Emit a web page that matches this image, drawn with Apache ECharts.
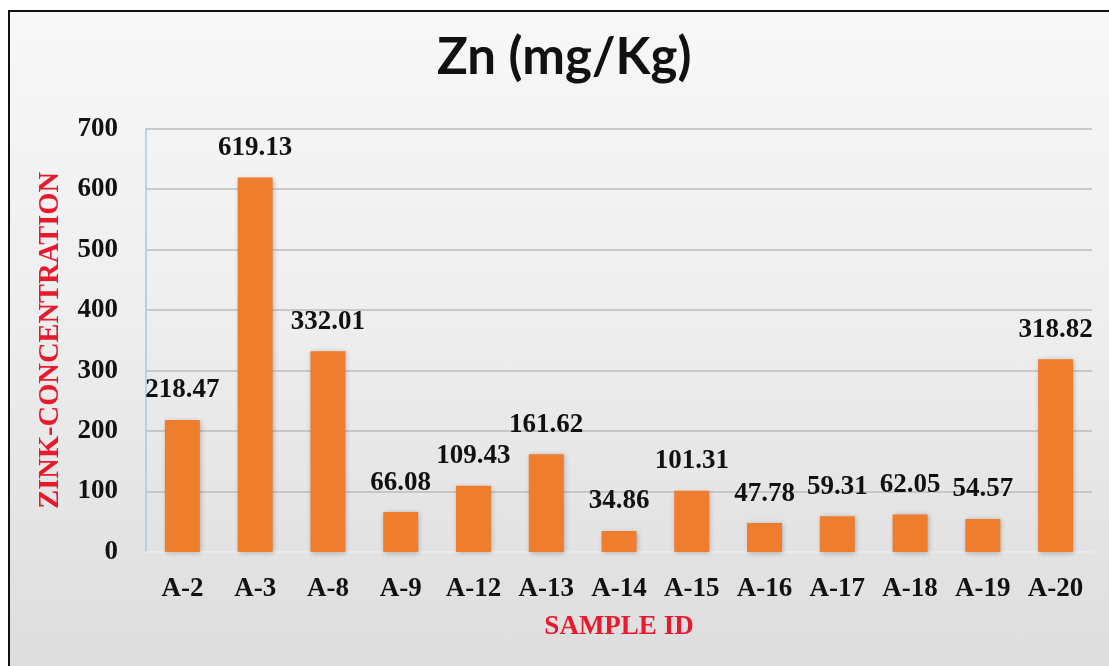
<!DOCTYPE html>
<html>
<head>
<meta charset="utf-8">
<title>Zn (mg/Kg)</title>
<script src="https://cdn.jsdelivr.net/npm/echarts@6/dist/echarts.min.js"></script>
<style>
  html, body { margin: 0; padding: 0; width: 1109px; height: 666px; overflow: hidden; background: #ffffff; }
  #frame {
    position: absolute; left: 8px; top: 10px; width: 1120px; height: 680px;
    border-left: 2px solid #111; border-top: 2px solid #111;
    background: linear-gradient(to bottom, #f8f8f8 0%, #eeeeee 45%, #dcdcdc 100%);
  }
  #chart { position: absolute; left: 0; top: 0; width: 1109px; height: 666px; }
</style>
</head>
<body>
<div id="frame"></div>
<div id="chart"></div>
<script>
// Zinc concentration per sample (mg/Kg)
const sampleIds = ['A-2', 'A-3', 'A-8', 'A-9', 'A-12', 'A-13', 'A-14', 'A-15', 'A-16', 'A-17', 'A-18', 'A-19', 'A-20'];
const znValues = [218.47, 619.13, 332.01, 66.08, 109.43, 161.62, 34.86, 101.31, 47.78, 59.31, 62.05, 54.57, 318.82];
const yTicks = [0, 100, 200, 300, 400, 500, 600, 700];

const serif = '"Liberation Serif", "Times New Roman", serif';

const chart = echarts.init(document.getElementById('chart'), null, { renderer: 'canvas' });

chart.setOption({
  backgroundColor: 'transparent',
  animation: false,
  title: {
    text: 'Zn (mg/Kg)',
    left: 432,
    top: 27,
    textStyle: { fontFamily: 'Lato, "Open Sans", sans-serif', fontWeight: 'bold', fontSize: 51, color: '#111' }
  },
  grid: { left: 146, right: 17, top: 128.7, bottom: 114, containLabel: false },
  xAxis: {
    type: 'category',
    data: sampleIds,
    name: 'SAMPLE ID',
    nameLocation: 'middle',
    nameGap: 62,
    nameTextStyle: { fontFamily: serif, fontWeight: 'bold', fontSize: 27, color: '#e8192c' },
    axisLine: { show: true, lineStyle: { color: '#e4ecf4', width: 2 } },
    axisTick: { show: false },
    axisLabel: { fontFamily: serif, fontWeight: 'bold', fontSize: 27, color: '#111', margin: 24 }
  },
  yAxis: {
    type: 'value',
    min: yTicks[0],
    max: yTicks[yTicks.length - 1],
    interval: yTicks[1] - yTicks[0],
    name: 'ZINK-CONCENTRATION',
    nameLocation: 'middle',
    nameGap: 81,
    nameTextStyle: { fontFamily: serif, fontWeight: 'bold', fontSize: 28.5, color: '#e8192c' },
    axisLine: { show: true, lineStyle: { color: '#a9c8e6', width: 1.5 } },
    axisTick: { show: false },
    axisLabel: { fontFamily: serif, fontWeight: 'bold', fontSize: 27, color: '#111', margin: 28 },
    splitLine: { show: true, lineStyle: { color: '#bcbcbc', width: 1.5 } }
  },
  series: [{
    type: 'bar',
    data: znValues,
    barWidth: 35,
    itemStyle: {
      color: '#ee7d2e',
      shadowColor: 'rgba(0,0,0,0.28)',
      shadowBlur: 5,
      shadowOffsetX: 1,
      shadowOffsetY: 1
    },
    label: {
      show: true,
      position: 'top',
      distance: 16,
      fontFamily: serif,
      fontWeight: 'bold',
      fontSize: 27,
      color: '#111',
      formatter: p => p.value.toFixed(2)
    }
  }]
});
</script>
</body>
</html>
